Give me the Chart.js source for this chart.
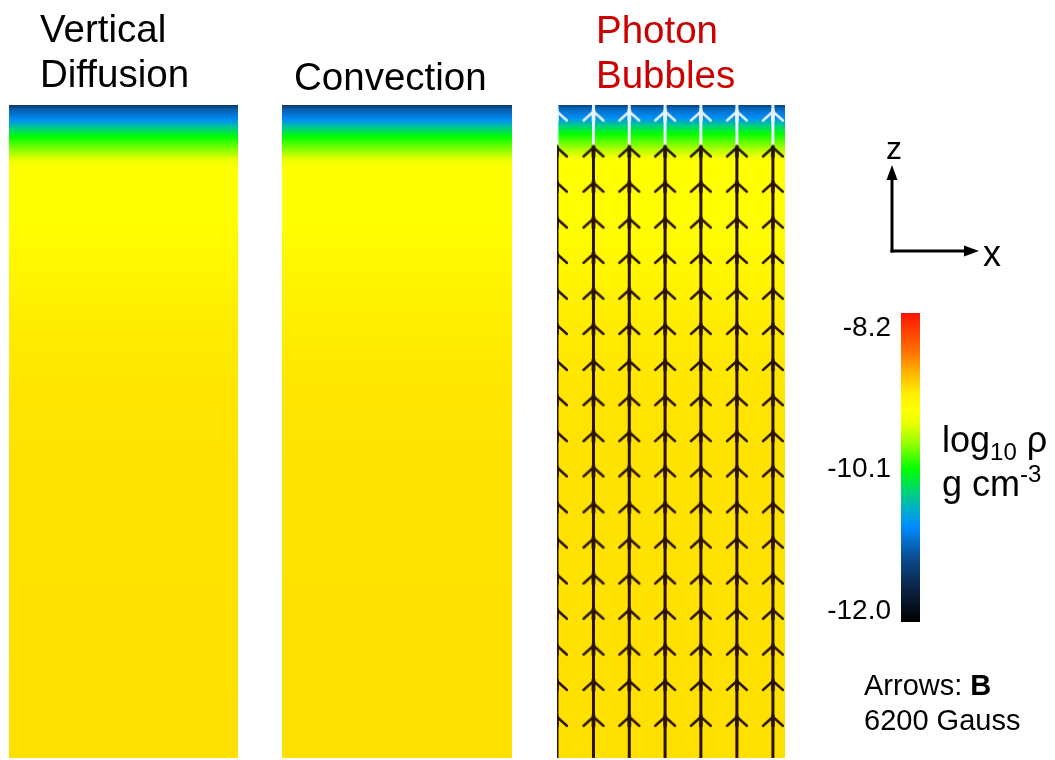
<!DOCTYPE html>
<html>
<head>
<meta charset="utf-8">
<script src="https://cdn.jsdelivr.net/npm/chart.js@4.4.1/dist/chart.umd.min.js"></script>
<style>
  html, body { margin:0; padding:0; background:#fff; width:1055px; height:760px; overflow:hidden; }
  .box { position:absolute; }
  #overlay { position:absolute; left:0; top:0; pointer-events:none; }
</style>
</head>
<body>
<div class="box" style="left:9px;top:105px;width:229px;height:653px"><canvas id="p1"></canvas></div>
<div class="box" style="left:282px;top:105px;width:230px;height:653px"><canvas id="p2"></canvas></div>
<div class="box" style="left:557px;top:105px;width:228px;height:653px"><canvas id="p3"></canvas></div>
<div class="box" style="left:557px;top:105px;width:228px;height:653px"><canvas id="p3arrows"></canvas></div>
<div class="box" style="left:800px;top:303px;width:120px;height:329px"><canvas id="cbar"></canvas></div>

<svg id="overlay" width="1055" height="760" font-family="'Liberation Sans', Arial, sans-serif">
  <g id="titles"></g>
  <!-- orientation icon -->
  <line x1="892" y1="252.5" x2="892" y2="178" stroke="#000" stroke-width="3"/>
  <polygon points="892,165 886.5,180 897.5,180" fill="#000"/>
  <line x1="890.5" y1="251" x2="966" y2="251" stroke="#000" stroke-width="3"/>
  <polygon points="979,251 964,245.5 964,256.5" fill="#000"/>
  <text x="894" y="159" font-size="32" text-anchor="middle">z</text>
  <text x="992" y="266" font-size="36" text-anchor="middle">x</text>
  <!-- colour bar label -->
  <text x="942" y="452" font-size="36">log<tspan font-size="24" dy="8">10</tspan><tspan dy="-8"> ρ</tspan></text>
  <text x="942" y="496" font-size="36">g cm<tspan font-size="24" dy="-14">-3</tspan></text>
  <!-- arrows note -->
  <text id="note1" x="864" y="695" font-size="29">Arrows: <tspan font-weight="bold">B</tspan></text>
  <text id="note2" x="864" y="730" font-size="29"></text>
</svg>

<script>
// ---------------- data ----------------
const panelTitles = [['Vertical', 'Diffusion'], ['Convection'], ['Photon', 'Bubbles']];
const titleColors = ['#000000', '#000000', '#cc0000'];

// height above the bottom of each box (% of box height) and log10 rho there
const zDiffusion    = [0, 54.1, 66.3, 75.5, 81.6, 90.5, 91.6, 92.7, 93.9, 95.1, 96.5, 97.7, 99.4, 100];
const rhoDiffusion  = [-9.02, -9.04, -9.08, -9.2, -9.28, -9.3, -9.45, -9.7, -9.9, -10.1, -10.45, -10.85, -11.2, -11.5];
const zConvection   = [0, 54.1, 66.3, 75.5, 81.6, 90.5, 91.6, 92.7, 93.9, 95.1, 96.5, 97.7, 99.4, 100];
const rhoConvection = [-9.02, -9.04, -9.09, -9.2, -9.28, -9.3, -9.45, -9.7, -9.9, -10.1, -10.45, -10.85, -11.2, -11.5];
const zBubbles      = [0, 54.1, 66.3, 75.5, 81.6, 91.1, 92.0, 93.1, 94.2, 95.6, 96.9, 98.0, 99.4, 100];
const rhoBubbles    = [-9.02, -9.04, -9.08, -9.2, -9.28, -9.3, -9.4, -9.65, -9.85, -10.1, -10.45, -10.85, -11.1, -11.4];

// magnetic field arrows (photon bubbles box): horizontal position (fraction of box width), heights (%)
const arrowCols = [0.0, 0.16, 0.317, 0.474, 0.631, 0.789, 0.947];
const arrowRows = [99.0, 93.5, 88.1, 82.6, 77.2, 71.7, 66.3, 60.8, 55.4, 49.9, 44.5, 39.0, 33.6, 28.1, 22.7, 17.2, 11.8, 6.3];
const fieldGauss = 6200;

// colour map (log10 rho -> colour) and colour bar ticks
const cmapValues = [-12.15, -11.75, -11.3, -10.87, -10.6, -10.4, -10.1, -9.75, -9.5, -9.3, -9.1, -8.85, -8.5, -8.0];
const cmapColors = ['#000000', '#0a1e3c', '#0a4b8c', '#008cff', '#00b4be', '#00d278', '#00ff00', '#96ff00', '#e6ff00', '#ffff00', '#fff000', '#ffbe00', '#ff6e00', '#ff1400'];
const colorbarTicks = [-8.2, -10.1, -12.0];

// ---------------- helpers ----------------
const FONT = "'Liberation Sans', Arial, sans-serif";
function hexToRgb(h) { return [parseInt(h.slice(1,3),16), parseInt(h.slice(3,5),16), parseInt(h.slice(5,7),16)]; }
const cmapRgb = cmapColors.map(hexToRgb);
function cmap(v) {
  if (v <= cmapValues[0]) return cmapColors[0];
  const n = cmapValues.length;
  if (v >= cmapValues[n-1]) return cmapColors[n-1];
  for (let i = 0; i < n - 1; i++) {
    if (v <= cmapValues[i+1]) {
      const t = (v - cmapValues[i]) / (cmapValues[i+1] - cmapValues[i]);
      const a = cmapRgb[i], b = cmapRgb[i+1];
      return 'rgb(' + [0,1,2].map(k => Math.round(a[k] + (b[k]-a[k])*t)).join(',') + ')';
    }
  }
}
function verticalGradient(chart, levels, colorAt) {
  const ys = chart.scales.y;
  if (!ys || !chart.chartArea) return null;
  const lo = levels[0], hi = levels[levels.length-1];
  const g = chart.ctx.createLinearGradient(0, ys.getPixelForValue(lo), 0, ys.getPixelForValue(hi));
  levels.forEach((v, i) => g.addColorStop((v - lo) / (hi - lo), colorAt(i)));
  return g;
}
function chevron(color) {
  const c = document.createElement('canvas'); c.width = 26; c.height = 24;
  const g = c.getContext('2d');
  g.strokeStyle = color; g.lineCap = 'round'; g.lineJoin = 'round';
  g.lineWidth = 2.4;
  g.beginPath(); g.moveTo(3, 21); g.lineTo(13, 12); g.lineTo(23, 21); g.stroke();
  g.lineWidth = 3.6;
  g.beginPath(); g.moveTo(13, 11); g.lineTo(13, 21); g.stroke();
  return c;
}
const DARK = '#2b1206', LIGHT = '#e8f4ff';
const headDark = chevron(DARK), headLight = chevron(LIGHT);

const baseOptions = {
  responsive: true, maintainAspectRatio: false, animation: false,
  layout: { padding: 0, autoPadding: false },
  plugins: { legend: { display: false }, tooltip: { enabled: false }, title: { display: false } },
  events: []
};

function makePanel(id, title, z, rho) {
  return new Chart(document.getElementById(id), {
    type: 'bar',
    data: { labels: [title.join(' ')], datasets: [{
      data: [[z[0], z[z.length-1]]],
      backgroundColor: ctx => verticalGradient(ctx.chart, z, i => cmap(rho[i])),
      barPercentage: 1, categoryPercentage: 1, borderWidth: 0
    }]},
    options: Object.assign({}, baseOptions, {
      scales: {
        x: { type: 'category', display: false, offset: true },
        y: { type: 'linear', display: false, min: 0, max: 100 }
      }
    })
  });
}

makePanel('p1', panelTitles[0], zDiffusion, rhoDiffusion);
makePanel('p2', panelTitles[1], zConvection, rhoConvection);
makePanel('p3', panelTitles[2], zBubbles, rhoBubbles);

// magnetic field arrows over the photon-bubbles box
(function () {
  const datasets = [];
  arrowCols.forEach(c => datasets.push({
    type: 'line', order: 2,
    data: [{x: c, y: 0}, {x: c, y: arrowRows[1]}, {x: c, y: 100}],
    borderColor: DARK, borderWidth: 3, pointRadius: 0, tension: 0,
    segment: { borderColor: s => (s.p0.parsed.y >= arrowRows[1] ? LIGHT : DARK) }
  }));
  const topHeads = [], heads = [];
  arrowRows.forEach((r, j) => arrowCols.forEach(c => (j === 0 ? topHeads : heads).push({x: c, y: r})));
  datasets.push({ type: 'scatter', order: 1, data: heads, pointStyle: headDark, pointRadius: 6 });
  datasets.push({ type: 'scatter', order: 1, data: topHeads, pointStyle: headLight, pointRadius: 6 });
  new Chart(document.getElementById('p3arrows'), {
    type: 'scatter',
    data: { datasets },
    options: Object.assign({}, baseOptions, {
      scales: {
        x: { type: 'linear', display: false, min: 0, max: 1, offset: false },
        y: { type: 'linear', display: false, min: 0, max: 100, offset: false }
      }
    })
  });
})();

// colour bar
new Chart(document.getElementById('cbar'), {
  type: 'bar',
  data: { labels: ['log10 rho'], datasets: [{
    data: [[cmapValues[0], cmapValues[cmapValues.length-1]]],
    backgroundColor: ctx => verticalGradient(ctx.chart, cmapValues, i => cmapColors[i]),
    barPercentage: 1, categoryPercentage: 1, borderWidth: 0
  }]},
  options: Object.assign({}, baseOptions, {
    layout: { padding: { top: 10, bottom: 10, left: 0, right: 0 }, autoPadding: false },
    scales: {
      x: { display: false },
      y: {
        min: cmapValues[0], max: cmapValues[cmapValues.length-1], position: 'left',
        grid: { display: false, drawTicks: false }, border: { display: false },
        afterBuildTicks: a => { a.ticks = colorbarTicks.map(v => ({ value: v })); },
        afterFit: a => { a.width = 101; a.paddingTop = 0; a.paddingBottom = 0; },
        ticks: { color: '#000', padding: 10, autoSkip: false, font: { family: FONT, size: 28 },
                 callback: v => Number(v).toFixed(1) }
      }
    }
  })
});

// panel titles (text)
const titleX = [40, 294, 596];
const titleBaselines = [[42, 87], [90], [43, 88]];
const tg = document.getElementById('titles');
panelTitles.forEach((lines, p) => lines.forEach((line, k) => {
  const t = document.createElementNS('http://www.w3.org/2000/svg', 'text');
  t.setAttribute('x', titleX[p]); t.setAttribute('y', titleBaselines[p][k]);
  t.setAttribute('font-size', '38.5'); t.setAttribute('fill', titleColors[p]);
  t.textContent = line;
  tg.appendChild(t);
}));
document.getElementById('note2').textContent = fieldGauss + ' Gauss';
</script>
</body>
</html>
